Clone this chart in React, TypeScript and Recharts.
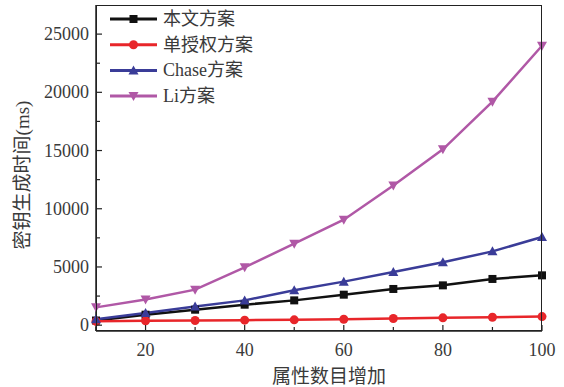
import { LineChart, Line, XAxis, YAxis, Label } from 'recharts';

const attrCounts = [10, 20, 30, 40, 50, 60, 70, 80, 90, 100];
const oursTimes = [400, 900, 1330, 1760, 2130, 2620, 3110, 3420, 3970, 4280];
const singleAuthTimes = [330, 380, 400, 430, 460, 510, 570, 630, 680, 740];
const chaseTimes = [500, 1050, 1600, 2130, 3000, 3740, 4570, 5400, 6340, 7580];
const liTimes = [1530, 2200, 3050, 4970, 7000, 9060, 12000, 15100, 19200, 24000];

const xTicks = [10, 20, 30, 40, 50, 60, 70, 80, 90, 100];
const xLabelled = [20, 40, 60, 80, 100];
const yTicks = [0, 2500, 5000, 7500, 10000, 12500, 15000, 17500, 20000, 22500, 25000];
const yLabelled = [0, 5000, 10000, 15000, 20000, 25000];

const seriesNames = ['本文方案', '单授权方案', 'Chase方案', 'Li方案'];

const data = attrCounts.map((n, i) => ({
  n,
  ours: oursTimes[i],
  single: singleAuthTimes[i],
  chase: chaseTimes[i],
  li: liTimes[i],
}));

const FONT = "'Liberation Serif', 'Noto Sans CJK SC', serif";
const AXIS = '#222';
const TEXT = '#3a3a3a';

const series = [
  { key: 'ours', name: seriesNames[0], color: '#111111', shape: 'square' },
  { key: 'single', name: seriesNames[1], color: '#e8262a', shape: 'circle' },
  { key: 'chase', name: seriesNames[2], color: '#3a3c98', shape: 'up' },
  { key: 'li', name: seriesNames[3], color: '#b058a6', shape: 'down' },
];

function Marker({ cx, cy, shape, color }: any) {
  if (cx == null || cy == null) return null;
  if (shape === 'square') return <rect x={cx - 4} y={cy - 4} width={8} height={8} fill={color} />;
  if (shape === 'circle') return <circle cx={cx} cy={cy} r={4.5} fill={color} />;
  if (shape === 'up')
    return <polygon points={`${cx},${cy - 5} ${cx - 5},${cy + 4} ${cx + 5},${cy + 4}`} fill={color} />;
  return <polygon points={`${cx},${cy + 5} ${cx - 5},${cy - 4} ${cx + 5},${cy - 4}`} fill={color} />;
}

function XTick({ x, y, payload }: any) {
  const major = xLabelled.includes(payload.value);
  return (
    <g>
      <line x1={x} y1={y} x2={x} y2={y - (major ? 6 : 4)} stroke={AXIS} strokeWidth={1.2} />
      {major && (
        <text x={x} y={y + 25} textAnchor="middle" fontSize={18} fill={TEXT} fontFamily={FONT}>
          {payload.value}
        </text>
      )}
    </g>
  );
}

function YTick({ x, y, payload }: any) {
  const major = yLabelled.includes(payload.value);
  return (
    <g>
      <line x1={x} y1={y} x2={x + (major ? 6 : 4)} y2={y} stroke={AXIS} strokeWidth={1.2} />
      {major && (
        <text x={x - 7} y={y + 6} textAnchor="end" fontSize={18} fill={TEXT} fontFamily={FONT}>
          {payload.value}
        </text>
      )}
    </g>
  );
}

function LegendBox() {
  return (
    <svg width={150} height={110} style={{ position: 'absolute', left: 108, top: 8 }}>
      {series.map((s, i) => {
        const cy = 11 + i * 25.7;
        return (
          <g key={s.key}>
            <line x1={2} y1={cy} x2={49} y2={cy} stroke={s.color} strokeWidth={3} />
            <Marker cx={25.5} cy={cy} shape={s.shape} color={s.color} />
            <text x={55} y={cy + 6} fontSize={18} fill={TEXT} fontFamily={FONT}>
              {s.name}
            </text>
          </g>
        );
      })}
    </svg>
  );
}

export default function App() {
  return (
    <div style={{ position: 'absolute', left: 0, top: 0, width: 564, height: 387, background: '#fff' }}>
      <LineChart width={564} height={387} data={data} margin={{ top: 5, right: 22, bottom: 0, left: 0 }}>
        <XAxis
          dataKey="n"
          type="number"
          domain={[10, 100]}
          ticks={xTicks}
          tick={<XTick />}
          tickLine={false}
          tickSize={0}
          tickMargin={0}
          height={56}
          axisLine={{ stroke: AXIS, strokeWidth: 1.5 }}
          interval={0}
        >
          <Label
            value="属性数目增加"
            position="insideBottom"
            offset={4}
            dx={10}
            fontSize={19}
            fill={TEXT}
            fontFamily={FONT}
          />
        </XAxis>
        <YAxis
          type="number"
          domain={[-500, 27500]}
          ticks={yTicks}
          tick={<YTick />}
          tickLine={false}
          tickSize={0}
          tickMargin={0}
          width={96}
          axisLine={{ stroke: AXIS, strokeWidth: 1.5 }}
          interval={0}
        >
          <Label
            content={() => (
              <text
                x={22}
                y={175}
                transform="rotate(-90, 22, 175)"
                textAnchor="middle"
                dominantBaseline="central"
                fontSize={19}
                fill={TEXT}
                fontFamily={FONT}
              >
                密钥生成时间(ms)
              </text>
            )}
          />
        </YAxis>
        {series.map((s) => (
          <Line
            key={s.key}
            dataKey={s.key}
            name={s.name}
            stroke={s.color}
            strokeWidth={2.5}
            isAnimationActive={false}
            dot={(p: any) => <Marker key={`${s.key}-${p.index}`} cx={p.cx} cy={p.cy} shape={s.shape} color={s.color} />}
            activeDot={false}
          />
        ))}
      </LineChart>
      <div
        style={{
          position: 'absolute',
          left: 96,
          top: 5,
          width: 446,
          height: 326,
          boxSizing: 'border-box',
          border: `1.5px solid ${AXIS}`,
          pointerEvents: 'none',
        }}
      />
      <LegendBox />
    </div>
  );
}
